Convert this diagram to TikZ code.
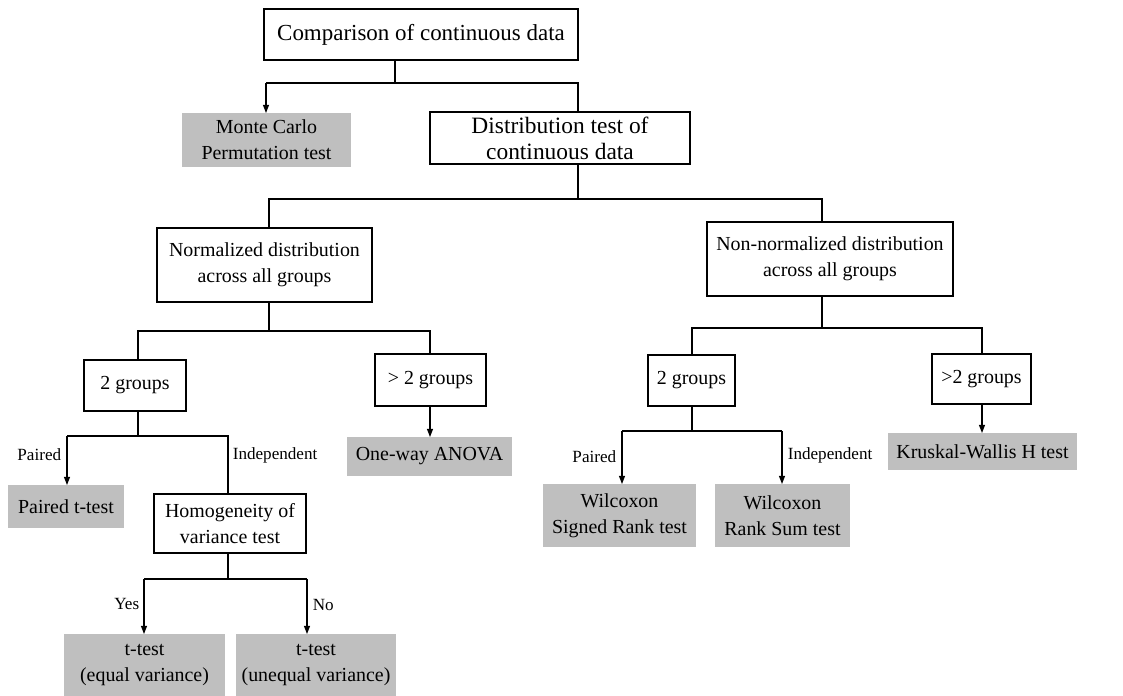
\documentclass[tikz,border=0pt]{standalone}
\usepackage{fontspec}
\setmainfont{Liberation Serif}
\usetikzlibrary{arrows.meta}
\definecolor{boxgrey}{RGB}{191,191,191}
\tikzset{
  plainbox/.style={draw, line width=0.5pt, inner sep=0pt, outer sep=0pt, align=center, font=\fontsize{8.5}{11}\selectfont},
  greybox/.style={fill=boxgrey, inner sep=0pt, outer sep=0pt, align=center, font=\fontsize{8.5}{11}\selectfont},
  branch/.style={font=\fontsize{7.3}{9}\selectfont, inner sep=1pt},
  link/.style={line width=0.5pt},
  arr/.style={link, -{Triangle[length=3.5pt,width=2.6pt]}},
}
\begin{document}
\begin{tikzpicture}[x=0.015cm, y=-0.015cm]
  \useasboundingbox (0,0) rectangle (1123,696);
  % boxes
  \node[plainbox, minimum width=4.71cm, minimum height=0.765cm, font=\fontsize{9.8}{11}\selectfont] (comp) at (421,34.5) {Comparison of continuous data};
  \node[greybox, minimum width=2.535cm, minimum height=0.81cm] (mc) at (266.5,140) {Monte Carlo\\Permutation test};
  \node[plainbox, minimum width=3.9cm, minimum height=0.78cm, font=\fontsize{10}{11}\selectfont] (dist) at (560,138) {Distribution test of\\continuous data};
  \node[plainbox, minimum width=3.225cm, minimum height=1.11cm] (norm) at (264.5,265) {Normalized distribution\\across all groups};
  \node[plainbox, minimum width=3.69cm, minimum height=1.11cm] (nonnorm) at (830,259) {Non-normalized distribution\\across all groups};
  \node[plainbox, minimum width=1.53cm, minimum height=0.765cm] (twoA) at (135,385.5) {2 groups};
  \node[plainbox, minimum width=1.665cm, minimum height=0.78cm] (moreA) at (430.5,380) {> 2 groups};
  \node[plainbox, minimum width=1.305cm, minimum height=0.765cm] (twoB) at (691.5,380.5) {2 groups};
  \node[plainbox, minimum width=1.485cm, minimum height=0.75cm] (moreB) at (981.5,379) {>2 groups};
  \node[greybox, minimum width=2.475cm, minimum height=0.585cm] (anova) at (429.5,456.5) {One-way ANOVA};
  \node[greybox, minimum width=2.835cm, minimum height=0.555cm] (kw) at (982.5,451.5) {Kruskal-Wallis H test};
  \node[greybox, minimum width=1.74cm, minimum height=0.645cm] (pt) at (66,506.5) {Paired t-test};
  \node[plainbox, minimum width=2.28cm, minimum height=0.885cm] (homog) at (230,523.5) {Homogeneity of\\variance test};
  \node[greybox, minimum width=2.295cm, minimum height=0.945cm] (wsr) at (619.5,515.5) {Wilcoxon\\Signed Rank test};
  \node[greybox, minimum width=2.025cm, minimum height=0.945cm] (wrs) at (782.5,515.5) {Wilcoxon\\Rank Sum test};
  \node[greybox, minimum width=2.415cm, minimum height=0.93cm] (tq) at (144.5,665) {t-test\\(equal variance)};
  \node[greybox, minimum width=2.4cm, minimum height=0.93cm] (tu) at (316,665) {t-test\\(unequal variance)};
  % level 1
  \coordinate (c1) at (395,83);
  \coordinate (c1l) at (266,83);
  \coordinate (c1r) at (578,83);
  \draw[link] (comp.south -| c1) -- (c1);
  \draw[link] (c1l) -- (c1r) -- (c1r |- dist.north);
  \draw[arr] (c1l) -- (c1l |- mc.north);
  % level 2
  \coordinate (c2) at (578,199);
  \coordinate (c2l) at (269,199);
  \coordinate (c2r) at (822,199);
  \draw[link] (dist.south -| c2) -- (c2);
  \draw[link] (c2l |- norm.north) -- (c2l) -- (c2r) -- (c2r |- nonnorm.north);
  % normalized branch
  \coordinate (c3) at (269,331);
  \coordinate (c3l) at (138,331);
  \coordinate (c3r) at (430,331);
  \draw[link] (norm.south -| c3) -- (c3);
  \draw[link] (c3l |- twoA.north) -- (c3l) -- (c3r) -- (c3r |- moreA.north);
  \draw[arr] (moreA.south -| c3r) -- (c3r |- anova.north);
  % non-normalized branch
  \coordinate (c4) at (822,328);
  \coordinate (c4l) at (692,328);
  \coordinate (c4r) at (982,328);
  \draw[link] (nonnorm.south -| c4) -- (c4);
  \draw[link] (c4l |- twoB.north) -- (c4l) -- (c4r) -- (c4r |- moreB.north);
  \draw[arr] (moreB.south -| c4r) -- (c4r |- kw.north);
  % 2 groups, normalized
  \coordinate (c5) at (138,436);
  \coordinate (c5l) at (67,436);
  \coordinate (c5r) at (228,436);
  \draw[link] (twoA.south -| c5) -- (c5);
  \draw[link] (c5l) -- (c5r) -- (c5r |- homog.north);
  \draw[arr] (c5l) -- (c5l |- pt.north);
  \node[branch, anchor=east] (pairA) at (64,455) {Paired};
  \node[branch, anchor=west] (indepA) at (230,455) {Independent};
  % variance test
  \coordinate (c6) at (228,579);
  \coordinate (c6l) at (144,579);
  \coordinate (c6r) at (307,579);
  \draw[link] (homog.south -| c6) -- (c6);
  \draw[link] (c6l) -- (c6r);
  \draw[arr] (c6l) -- (c6l |- tq.north);
  \draw[arr] (c6r) -- (c6r |- tu.north);
  \node[branch, anchor=east] (yes) at (142,604) {Yes};
  \node[branch, anchor=west] (no) at (310,605) {No};
  % 2 groups, non-normalized
  \coordinate (c7) at (692,431);
  \coordinate (c7l) at (622,431);
  \coordinate (c7r) at (782,431);
  \draw[link] (twoB.south -| c7) -- (c7);
  \draw[link] (c7l) -- (c7r);
  \draw[arr] (c7l) -- (c7l |- wsr.north);
  \draw[arr] (c7r) -- (c7r |- wrs.north);
  \node[branch, anchor=east] (pairB) at (619,457) {Paired};
  \node[branch, anchor=west] (indepB) at (785,455) {Independent};
\end{tikzpicture}
\end{document}
